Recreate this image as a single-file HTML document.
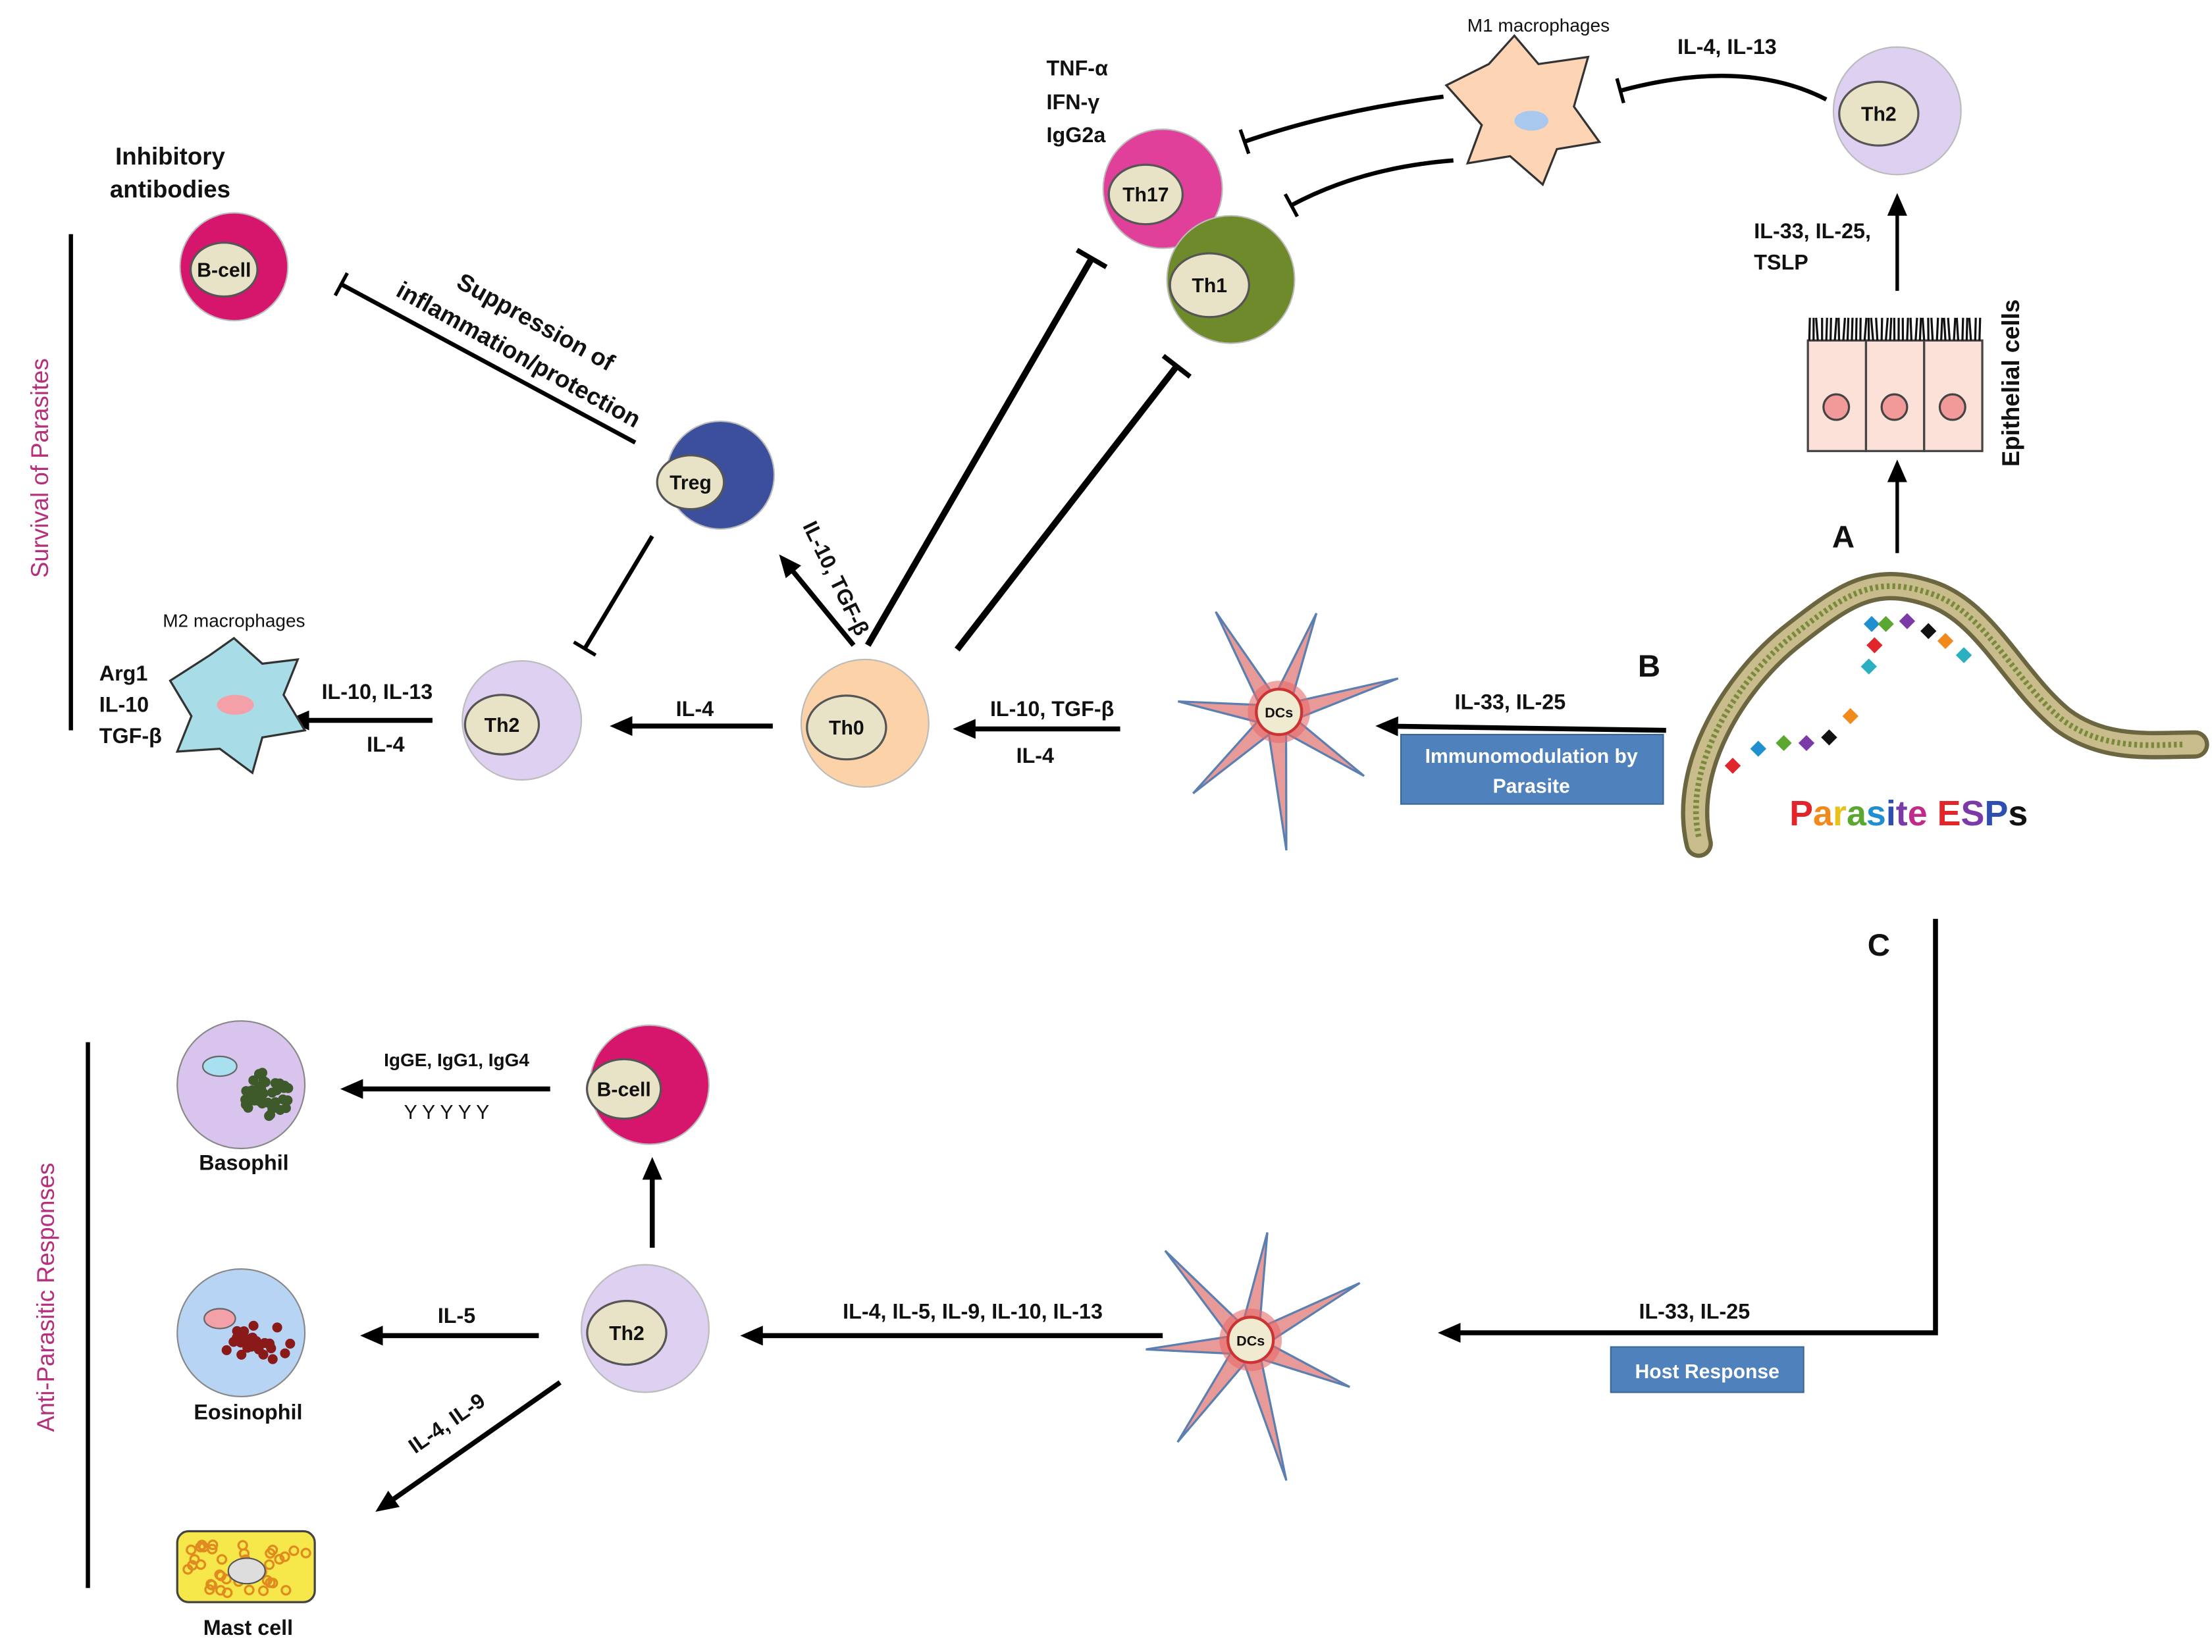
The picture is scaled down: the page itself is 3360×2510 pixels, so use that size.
<!DOCTYPE html>
<html><head><meta charset="utf-8"><style>
html,body{margin:0;padding:0;background:#fff;}
svg{display:block}
text{font-family:"Liberation Sans",sans-serif;font-weight:bold;fill:#111}
</style></head><body>
<svg id="s" width="3360" height="2510" viewBox="0 0 1560 1165" xmlns="http://www.w3.org/2000/svg">
<defs>
<marker id="ar" markerWidth="16" markerHeight="14" refX="12" refY="7" orient="auto" markerUnits="userSpaceOnUse"><path d="M0,0 L16,7 L0,14 Z" fill="#000"/></marker>
<marker id="tb" markerWidth="4" markerHeight="24" refX="2" refY="12" orient="auto" markerUnits="userSpaceOnUse"><rect x="0" y="0" width="3.5" height="24" fill="#000"/></marker>
<marker id="tbs" markerWidth="4" markerHeight="18" refX="2" refY="9" orient="auto" markerUnits="userSpaceOnUse"><rect x="0" y="0" width="2.5" height="18" fill="#000"/></marker>
</defs>
<line x1="50" y1="165" x2="50" y2="515" stroke="#000" stroke-width="3"/>
<text transform="translate(34,330) rotate(-90)" text-anchor="middle" font-size="17" style="fill:#b5307a;font-weight:normal">Survival of Parasites</text>
<line x1="62" y1="735" x2="62" y2="1120" stroke="#000" stroke-width="3"/>
<text transform="translate(38,915) rotate(-90)" text-anchor="middle" font-size="17" style="fill:#b5307a;font-weight:normal">Anti-Parasitic Responses</text>

<g stroke="#000" fill="none">
<line x1="448" y1="312" x2="240" y2="200" stroke-width="3" marker-end="url(#tbs)"/>
<line x1="460" y1="378" x2="412" y2="458" stroke-width="3" marker-end="url(#tbs)"/>
<line x1="305" y1="508" x2="206" y2="508" stroke-width="3.5" marker-end="url(#ar)"/>
<line x1="545" y1="512" x2="434" y2="512" stroke-width="3.5" marker-end="url(#ar)"/>
<line x1="602" y1="455" x2="552" y2="394" stroke-width="3.5" marker-end="url(#ar)"/>
<line x1="612" y1="455" x2="770" y2="182" stroke-width="4.5" marker-end="url(#tb)"/>
<line x1="675" y1="458" x2="830" y2="258" stroke-width="4.5" marker-end="url(#tb)"/>
<path d="M1018,68 Q940,78 877,100" stroke-width="3" marker-end="url(#tbs)"/>
<path d="M1025,113 Q960,118 910,145" stroke-width="3" marker-end="url(#tbs)"/>
<path d="M1288,70 Q1230,40 1142,64" stroke-width="3" marker-end="url(#tbs)"/>
<line x1="1338" y1="205" x2="1338" y2="140" stroke-width="2.5" marker-end="url(#ar)"/>
<line x1="1338" y1="390" x2="1338" y2="328" stroke-width="2.5" marker-end="url(#ar)"/>
<line x1="1175" y1="515" x2="974" y2="512" stroke-width="3.5" marker-end="url(#ar)"/>
<line x1="790" y1="514" x2="676" y2="514" stroke-width="3.5" marker-end="url(#ar)"/>
<polyline points="1365,648 1365,940 1018,940" stroke-width="3.5" marker-end="url(#ar)"/>
<line x1="820" y1="942" x2="526" y2="942" stroke-width="3.5" marker-end="url(#ar)"/>
<line x1="460" y1="880" x2="460" y2="820" stroke-width="3.5" marker-end="url(#ar)"/>
<line x1="388" y1="768" x2="244" y2="768" stroke-width="3.5" marker-end="url(#ar)"/>
<line x1="380" y1="942" x2="258" y2="942" stroke-width="3.5" marker-end="url(#ar)"/>
<line x1="395" y1="975" x2="268" y2="1064" stroke-width="3.5" marker-end="url(#ar)"/>
</g>

<g id="cells"></g>

<g stroke="#444" stroke-width="1.5">
<rect x="1275" y="240" width="41" height="78" fill="#fbe1d8"/>
<rect x="1316" y="240" width="41" height="78" fill="#fbe1d8"/>
<rect x="1357" y="240" width="41" height="78" fill="#fbe1d8"/>
<circle cx="1295" cy="287" r="9" fill="#f29a9a"/>
<circle cx="1336" cy="287" r="9" fill="#f29a9a"/>
<circle cx="1377" cy="287" r="9" fill="#f29a9a"/>
</g>
<g id="cilia" stroke="#111" stroke-width="1.5"></g>

<path d="M1198,595 C1185,540 1225,480 1262,450 C1300,420 1320,405 1360,418 C1400,430 1420,480 1455,508 C1485,530 1520,525 1548,525" fill="none" stroke="#6b6540" stroke-width="20" stroke-linecap="round"/>
<path d="M1198,595 C1185,540 1225,480 1262,450 C1300,420 1320,405 1360,418 C1400,430 1420,480 1455,508 C1485,530 1520,525 1548,525" fill="none" stroke="#c8bc8c" stroke-width="14" stroke-linecap="round"/>
<path d="M1198,590 C1187,540 1225,480 1262,450 C1300,420 1320,405 1360,418 C1400,430 1420,480 1455,508 C1485,530 1520,525 1540,525" fill="none" stroke="#7a8a3a" stroke-width="4" stroke-dasharray="2 2"/>
<g id="esp"></g>
<text x="1262" y="582" font-size="25"><tspan style="fill:#e0262a">P</tspan><tspan style="fill:#f08a1c">a</tspan><tspan style="fill:#e8c21a">r</tspan><tspan style="fill:#5aa832">a</tspan><tspan style="fill:#1f8fd0">s</tspan><tspan style="fill:#2e4fb0">i</tspan><tspan style="fill:#7a3aa8">t</tspan><tspan style="fill:#c02a8c">e</tspan> <tspan style="fill:#e0262a">E</tspan><tspan style="fill:#7a3aa8">S</tspan><tspan style="fill:#2e4fb0">P</tspan><tspan style="fill:#111">s</tspan></text>

<rect x="988" y="518" width="185" height="49" fill="#4f81bd" stroke="#3a6796"/>
<text x="1080" y="538" font-size="14" text-anchor="middle" style="fill:#fff">Immunomodulation by</text>
<text x="1080" y="559" font-size="14" text-anchor="middle" style="fill:#fff">Parasite</text>
<rect x="1136" y="950" width="136" height="32" fill="#4f81bd" stroke="#3a6796"/>
<text x="1204" y="972" font-size="14" text-anchor="middle" style="fill:#fff">Host Response</text>

<g font-size="15">
<text x="120" y="116" text-anchor="middle" font-size="17">Inhibitory</text>
<text x="120" y="139" text-anchor="middle" font-size="17">antibodies</text>
<text transform="translate(375,232) rotate(29)" text-anchor="middle" font-size="17">Suppression of</text>
<text transform="translate(363,255) rotate(29)" text-anchor="middle" font-size="17">inflammation/protection</text>
<text x="165" y="442" text-anchor="middle" font-size="13" style="font-weight:normal">M2 macrophages</text>
<text x="70" y="480">Arg1</text>
<text x="70" y="502">IL-10</text>
<text x="70" y="524">TGF-β</text>
<text x="266" y="493" text-anchor="middle">IL-10, IL-13</text>
<text x="272" y="530" text-anchor="middle">IL-4</text>
<text x="490" y="505" text-anchor="middle">IL-4</text>
<text transform="translate(585,410) rotate(64)" text-anchor="middle">IL-10, TGF-β</text>
<text x="738" y="53">TNF-α</text>
<text x="738" y="77">IFN-γ</text>
<text x="738" y="100">IgG2a</text>
<text x="1085" y="22" text-anchor="middle" font-size="13" style="font-weight:normal">M1 macrophages</text>
<text x="1218" y="38" text-anchor="middle">IL-4, IL-13</text>
<text x="1237" y="168">IL-33, IL-25,</text>
<text x="1237" y="190">TSLP</text>
<text transform="translate(1424,270) rotate(-90)" text-anchor="middle" font-size="17">Epithelial cells</text>
<text x="1300" y="386" text-anchor="middle" font-size="22">A</text>
<text x="1163" y="477" text-anchor="middle" font-size="22">B</text>
<text x="1325" y="674" text-anchor="middle" font-size="22">C</text>
<text x="1065" y="500" text-anchor="middle">IL-33, IL-25</text>
<text x="742" y="505" text-anchor="middle">IL-10, TGF-β</text>
<text x="730" y="538" text-anchor="middle">IL-4</text>
<text x="1195" y="930" text-anchor="middle">IL-33, IL-25</text>
<text x="686" y="930" text-anchor="middle">IL-4, IL-5, IL-9, IL-10, IL-13</text>
<text x="322" y="752" text-anchor="middle" font-size="13">IgGE, IgG1, IgG4</text>
<text x="315" y="789" text-anchor="middle" font-size="14" style="font-weight:normal">Y Y Y Y Y</text>
<text x="172" y="825" text-anchor="middle">Basophil</text>
<text x="322" y="933" text-anchor="middle">IL-5</text>
<text x="175" y="1001" text-anchor="middle">Eosinophil</text>
<text transform="translate(318,1008) rotate(-35)" text-anchor="middle">IL-4, IL-9</text>
<text x="175" y="1153" text-anchor="middle">Mast cell</text>
</g>

<script>
var NS="http://www.w3.org/2000/svg",C=document.getElementById("cells");
function el(t,a,p){var e=document.createElementNS(NS,t);for(var k in a)e.setAttribute(k,a[k]);(p||C).appendChild(e);return e;}
function cell(cx,cy,r,col,label,nx,ny){
 el("circle",{cx:cx,cy:cy,r:r,fill:col,stroke:"#bbb","stroke-width":1});
 el("ellipse",{cx:nx,cy:ny,rx:r*0.62,ry:r*0.5,fill:"#e8e3c6",stroke:"#555","stroke-width":1.5});
 var t=el("text",{x:nx,y:ny+5,"text-anchor":"middle","font-size":14});t.textContent=label;}
function poly(pts,fill){el("polygon",{points:pts,fill:fill,stroke:"#333","stroke-width":1.5});}
function star(cx,cy,n,Rl,Rs,fill,rot){var p=[];for(var i=0;i<2*n;i++){var a=rot+i*Math.PI/n;var r=(i%2==0)?Rl[(i/2)%Rl.length]:Rs;p.push((cx+r*Math.cos(a)).toFixed(1)+","+(cy+r*Math.sin(a)).toFixed(1));}
 el("polygon",{points:p.join(" "),fill:fill,stroke:"#5a7fb0","stroke-width":1.5});
 el("circle",{cx:cx+2,cy:cy-3,r:22,fill:"#e86a6a",opacity:0.6});
 el("circle",{cx:cx+2,cy:cy-3,r:16,fill:"#f0ead0",stroke:"#c33","stroke-width":2});
 var t=el("text",{x:cx+2,y:cy+1,"text-anchor":"middle","font-size":10});t.textContent="DCs";}
cell(165,188,38,"#d6156c","B-cell",158,190);
cell(508,335,38,"#3b4f9c","Treg",487,340);
cell(368,508,42,"#ddd0f0","Th2",354,511);
cell(610,510,45,"#fcd3a8","Th0",597,513);
cell(820,133,42,"#e0409a","Th17",808,137);
cell(868,197,45,"#6f8a2a","Th1",853,201);
cell(1338,78,45,"#ddd0f0","Th2",1325,80);
cell(455,937,45,"#ddd0f0","Th2",442,940);
cell(458,765,42,"#d6156c","B-cell",440,768);
poly("120,480 148,462 165,450 185,468 210,465 200,490 215,515 185,520 178,545 155,528 125,530 135,505","#a8dce6");
el("ellipse",{cx:166,cy:497,rx:13,ry:7,fill:"#f4a0a8"});
poly("1020,60 1050,45 1068,25 1085,45 1120,40 1110,75 1128,100 1098,105 1088,130 1065,110 1035,115 1045,88","#fdd5b5");
el("ellipse",{cx:1080,cy:85,rx:12,ry:7,fill:"#a8c8ee"});
star(900,505,7,[90,75,95,80,70,85,78],14,"#e89a98",-0.3);
star(880,948,7,[90,78,100,85,72,88,80],14,"#e89a98",-0.5);
el("circle",{cx:170,cy:765,r:45,fill:"#d8c4ec",stroke:"#888"});
el("ellipse",{cx:155,cy:752,rx:12,ry:7,fill:"#a8e0f0",stroke:"#666"});
for(var i=0;i<40;i++){var a=Math.random()*6.28,r=Math.random()*28;el("circle",{cx:185+r*Math.cos(a)*0.9,cy:772+r*Math.sin(a)*0.6,r:3.5,fill:"#3e5a2a"});}
el("circle",{cx:170,cy:940,r:45,fill:"#b8d4f4",stroke:"#888"});
el("ellipse",{cx:155,cy:930,rx:11,ry:7,fill:"#f4a0a8",stroke:"#666"});
for(var i=0;i<30;i++){var a=Math.random()*6.28,r=Math.random()*24;el("circle",{cx:182+r*Math.cos(a),cy:948+r*Math.sin(a)*0.6,r:3.5,fill:"#8a1a1a"});}
el("rect",{x:125,y:1080,width:97,height:50,rx:8,fill:"#f6e84a",stroke:"#444","stroke-width":1.5});
for(var i=0;i<40;i++){el("circle",{cx:132+Math.random()*84,cy:1086+Math.random()*38,r:3,fill:"none",stroke:"#e08a20","stroke-width":1.5});}
el("ellipse",{cx:174,cy:1108,rx:13,ry:9,fill:"#ddd",stroke:"#555"});
var ci=document.getElementById("cilia");
for(var x=1276;x<1398;x+=3){el("line",{x1:x,y1:240,x2:x+(Math.random()-0.5)*3,y2:224},ci);}
var E=document.getElementById("esp"),cols=["#e0262a","#1f8fd0","#5aa832","#7a3aa8","#111","#f08a1c","#2ab0c0"];
var pts=[[1222,540],[1240,528],[1258,524],[1274,524],[1290,520],[1305,505],[1318,470],[1322,455],[1320,440],[1330,440],[1345,438],[1360,445],[1372,452],[1385,462]];
pts.forEach(function(p,i){el("rect",{x:p[0]-4,y:p[1]-4,width:8,height:8,fill:cols[i%7],transform:"rotate(45 "+p[0]+" "+p[1]+")"},E);});
</script>
</svg>
</body></html>
